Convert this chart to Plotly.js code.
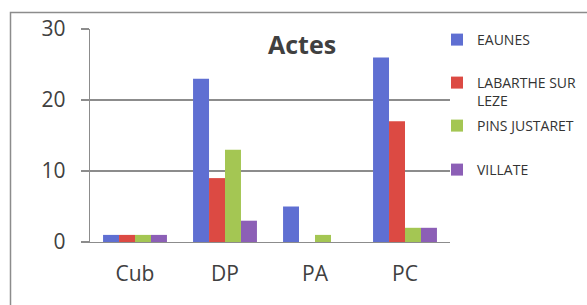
<!DOCTYPE html>
<html>
<head>
<meta charset="utf-8">
<script src="https://cdn.plot.ly/plotly-3.0.1.min.js"></script>
<style>html,body{margin:0;padding:0;background:#fff;}#chart{width:587px;height:305px;}</style>
</head>
<body>
<div id="chart"></div>
<script>
const categories = ["Cub", "DP", "PA", "PC"];
const seriesNames = ["EAUNES", "LABARTHE SUR<br>LEZE", "PINS JUSTARET", "VILLATE"];
const eaunes = [1, 23, 5, 26];
const labarthe = [1, 9, 0, 17];
const pins = [1, 13, 1, 2];
const villate = [1, 3, 0, 2];
const yTicks = [0, 10, 20, 30];

const colors = ["#5f6fd2", "#dc4a43", "#a4c653", "#8c5fb6"];
const values = [eaunes, labarthe, pins, villate];
const legendIds = ["legend", "legend2", "legend3", "legend4"];
const fam = "Open Sans, sans-serif";

const traces = values.map((v, i) => ({
  type: "bar",
  x: categories,
  y: v,
  name: seriesNames[i],
  marker: {color: colors[i]},
  legend: legendIds[i],
  showlegend: true,
  hoverinfo: "skip"
}));

function pyPaper(px) { return (242 - px) / 213; }
function pxPaper(px) { return (px - 90) / 360; }

const legendTops = [24, 67, 110, 154];
const layout = {
  width: 587, height: 305,
  margin: {l: 90, r: 137, t: 29, b: 63, autoexpand: false},
  paper_bgcolor: "#ffffff",
  plot_bgcolor: "#ffffff",
  showlegend: true,
  barmode: "group",
  bargap: 0.29,
  bargroupgap: 0,
  font: {family: fam, color: "#404040"},
  title: {text: "<b>Actes</b>", font: {size: 25, color: "#404040", family: fam},
          x: pxPaper(302), xref: "paper", xanchor: "center",
          y: 1 - 45 / 305, yanchor: "middle"},
  xaxis: {
    showgrid: false, showline: true, linecolor: "#8c8c8c", linewidth: 1.3,
    ticks: "", tickfont: {size: 21, color: "#404040", family: fam},
    ticklabelstandoff: 12, fixedrange: true
  },
  yaxis: {
    range: [0, 30], tickvals: yTicks, ticktext: yTicks.map(String),
    showgrid: true, gridcolor: "#8c8c8c", gridwidth: 1.3,
    showline: true, linecolor: "#8c8c8c", linewidth: 1.3,
    zeroline: false,
    ticks: "outside", ticklen: 8, tickcolor: "#8c8c8c", tickwidth: 1.3,
    tickfont: {size: 21, color: "#404040", family: fam},
    ticklabelstandoff: 11, fixedrange: true
  },
  shapes: [{
    type: "rect", xref: "paper", yref: "paper",
    x0: pxPaper(10.5), x1: pxPaper(620), y0: pyPaper(340), y1: pyPaper(12.5),
    line: {color: "#8c8c8c", width: 1.5}, fillcolor: "rgba(0,0,0,0)", layer: "below"
  }]
};
legendIds.forEach((id, i) => {
  layout[id] = {
    x: pxPaper(437), xanchor: "left",
    y: pyPaper(legendTops[i]), yanchor: "top",
    font: {size: 14, color: "#333333", family: fam},
    bgcolor: "rgba(0,0,0,0)", valign: "top", itemclick: false, itemdoubleclick: false
  };
});

Plotly.newPlot("chart", traces, layout, {displayModeBar: false, staticPlot: true});
</script>
</body>
</html>
